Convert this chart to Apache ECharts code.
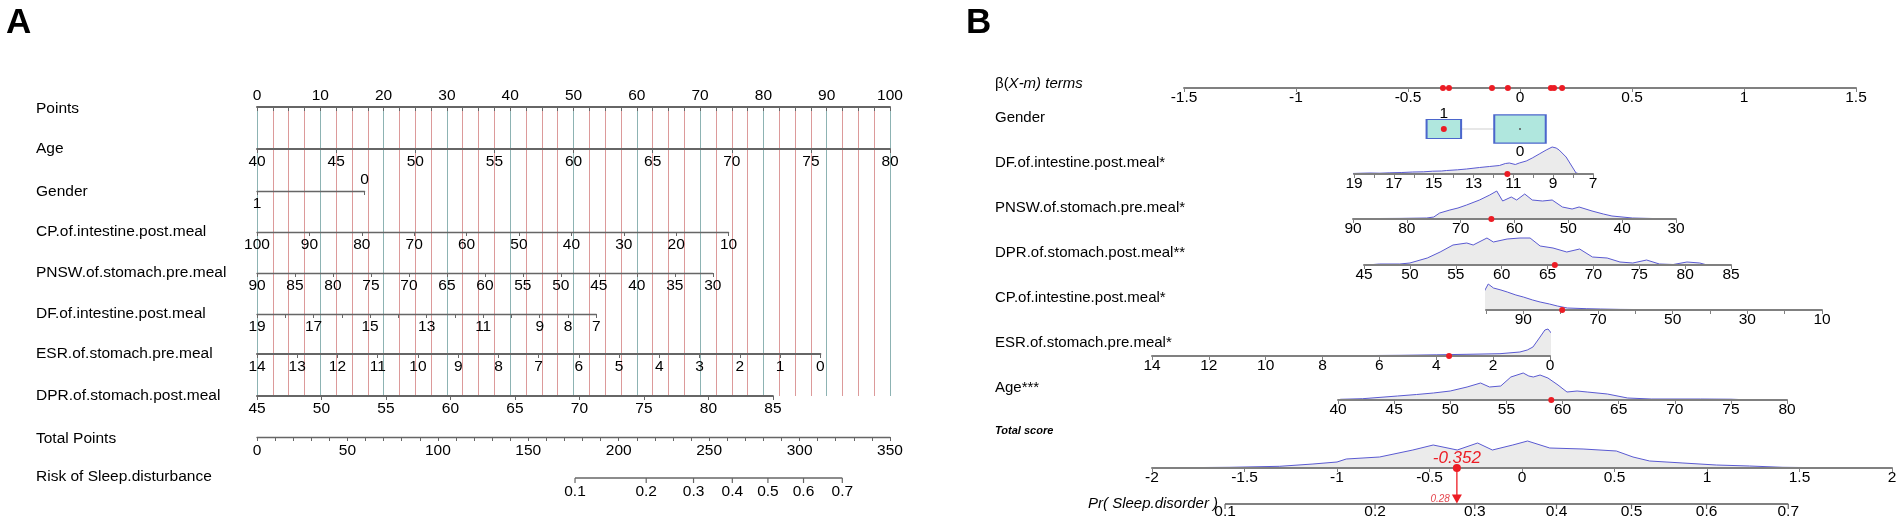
<!DOCTYPE html>
<html>
<head>
<meta charset="utf-8">
<script src="https://cdn.jsdelivr.net/npm/echarts@6/dist/echarts.min.js"></script>
<style>
  html, body { margin: 0; padding: 0; background: #fff; }
  #chart { width: 1902px; height: 524px; }
</style>
</head>
<body>
<div id="chart"></div>
<script>
// ---------- panel A : points nomogram ----------
const varNamesA = ['Age', 'Gender', 'CP.of.intestine.post.meal', 'PNSW.of.stomach.pre.meal',
  'DF.of.intestine.post.meal', 'ESR.of.stomach.pre.meal', 'DPR.of.stomach.post.meal'];
const varMinA = [40, 0, 10, 30, 7, 0, 45];
const varMaxA = [80, 1, 100, 90, 19, 14, 85];
const varStepA = [5, 1, 10, 5, 1, 1, 5];
const varFlipA = [false, true, true, true, true, true, false]; // high value = 0 points
const varPointsA = [100, 17, 74.5, 72, 53.6, 89, 81.5];        // points reached at far end
const dfLabelsA = [19, 17, 15, 13, 11, 9, 8, 7];
const genderLevelsA = [0, 1];
const totalPointsMax = 350;
const riskTicksA = [0.1, 0.2, 0.3, 0.4, 0.5, 0.6, 0.7];
const riskAt50 = 282.5;     // total points where risk = 0.5
const riskSlope = 0.0206;   // logit per total point

// ---------- panel B : regplot ----------
const betaTerms = [-0.344, -0.317, -0.125, -0.054, 0.138, 0.152, 0.188];
const genderBeta = [0, -0.34];       // level 0, level 1
const genderShare = [0.69, 0.31];
const patientGender = 1;
const varNamesB = ['DF.of.intestine.post.meal*', 'PNSW.of.stomach.pre.meal*', 'DPR.of.stomach.post.meal**',
  'CP.of.intestine.post.meal*', 'ESR.of.stomach.pre.meal*', 'Age***'];
const varMinB = [7, 30, 45, 10, 0, 40];
const varMaxB = [19, 90, 85, 100, 14, 80];
const varStepB = [1, 10, 5, 10, 2, 5];
const varFlipB = [true, true, false, true, true, false];
const dfLabelsB = [19, 17, 15, 13, 11, 9, 7];
const cpLabelsB = [90, 70, 50, 30, 10];
const patientB = [11.3, 64.3, 65.8, 79.6, 3.55, 59];
const dfDensity = [[19.1,0.5],[18.6,0.8],[18.2,1],[17.7,0.8],[17.2,1.2],[16.6,1.5],[16.05,2],[15.5,2.2],[15.05,2.8],[14.6,3],[14.35,3.5],[13.8,4.2],[13.35,5],[12.7,6.5],[12.2,7.5],[11.7,8.5],[11.4,10.5],[11.2,11],[10.9,9.5],[10.7,11],[10.35,13],[10.05,16],[9.7,20],[9.35,24],[9.05,27],[8.85,26],[8.7,24],[8.35,17],[8.1,9],[7.85,1],[7.7,0.3]];
const pnswDensity = [[90,0.5],[85,0.5],[81.3,0.6],[76.3,1],[75,2],[73.9,6],[72,9],[70.5,11],[68.9,14],[66.5,19],[64.6,24],[63.3,28],[62.2,18],[60.6,22],[59.6,19],[58.1,25],[56.7,19],[54.8,18],[53,19],[51.1,12],[49.3,10],[48,12],[45.6,8],[43.5,5],[41.9,3],[38.1,1],[34.4,0.5],[33,0.2]];
const dprDensity = [[45.3,0],[46.7,1],[48.9,1],[50,2],[51.9,7],[53.3,13],[54.7,20],[56.2,22],[56.9,20],[58.4,27],[59.1,23],[60.6,26],[62,27],[63.1,27],[64.2,19],[65.6,17],[67.1,13],[68.5,16],[69.9,8],[71.5,7],[72.9,3],[74.3,2],[75.8,5],[77.2,1],[78.7,0.5],[80.2,3],[81.6,2],[82.4,0]];
const cpDensity = [[102,0],[100.7,17],[99.4,26],[98,22],[96,20],[94.3,18],[92,15],[90,13],[87.5,10],[85.5,8],[83,6],[80.9,4],[78.2,2],[73,1.3],[69.4,1],[64,0.6],[60.6,0.5],[55,0.5],[51.5,0.4],[45.3,0]];
const esrDensity = [[8.45,0.3],[7.04,0.3],[5.28,0.7],[4,1.2],[2.92,1.7],[1.76,2.3],[1.06,4],[0.8,6],[0.6,9],[0.35,19],[0.18,26],[0.07,27],[-0.1,21],[-0.25,11],[-0.42,0]];
const ageDensity = [[40.2,0.7],[42.2,1.3],[45.3,4],[47,5.5],[48.5,7],[50,9],[51.5,13],[52.7,17],[53.5,13],[54.5,14],[55.4,23],[56.5,27],[57,24],[57.4,23],[58,25],[58.7,22],[59.6,15],[60.4,8],[61.3,9],[62.2,8],[64,6],[65.8,2],[67.9,1],[72.3,1],[75,0.8],[76.8,0]];
const totalDensity = [[-1.97,0],[-1.85,0.3],[-1.58,0.7],[-1.31,1.7],[-1.13,4],[-1,6],[-0.95,9],[-0.77,11],[-0.59,18],[-0.48,23],[-0.35,18],[-0.24,25],[-0.16,18],[-0.05,23],[0.03,27],[0.15,20],[0.33,19],[0.51,17],[0.6,11],[0.69,7],[0.87,5],[1.05,3],[1.23,2],[1.41,0.7],[1.61,0.3],[1.64,0]];
const densitiesB = [dfDensity, pnswDensity, dprDensity, cpDensity, esrDensity, ageDensity];
const totalScore = -0.352;
const patientProb = 0.28;
const prTicks = [0.1, 0.2, 0.3, 0.4, 0.5, 0.6, 0.7];
const prOffset = -0.592;   // logit(p) = score + offset

// ---------- layout ----------
const FONT = 'Liberation Sans, Arial, Helvetica, sans-serif';
const RED = '#ec1c24';
const TICK_FS = 15.5;
const A_LEFT = 257, A_W = 633;
const rowYA = [107, 149, 191, 232, 273, 314, 354, 396, 437, 478];
const rowLabelYA = [109, 149, 192, 232, 273, 314, 354, 396, 439, 477];
const B_LEFT = 995;
const rowYB = [174, 219, 265, 310, 356, 400];
const leftB = [1354, 1353, 1364, 1486, 1152, 1338];
const rightB = [1593, 1676, 1731, 1822, 1550, 1787];
const DENS_H = 32;

const logit = p => Math.log(p / (1 - p));
const riskToPoints = p => riskAt50 + logit(p) / riskSlope;
const probToScore = p => logit(p) - prOffset;

const grid = [], xAxis = [], yAxis = [], series = [];
function addGrid(box, xa, ya) {
  const i = grid.length;
  grid.push(Object.assign({ outerBoundsMode: 'none', containLabel: false }, box));
  xAxis.push(Object.assign({ gridIndex: i, type: 'value' }, xa));
  yAxis.push(Object.assign({ gridIndex: i, type: 'value', show: false, min: 0, max: 1 }, ya || {}));
  return i;
}
function scaleAxis(o) {
  return {
    type: 'value', min: o.min, max: o.max, interval: o.step, inverse: !!o.flip,
    position: o.top ? 'top' : 'bottom', z: 3,
    axisLine: { show: true, onZero: false, lineStyle: { color: o.color || '#666', width: o.width || 1.3 } },
    axisTick: { show: true, inside: !!o.top, length: 4, lineStyle: { color: o.color || '#666', width: 1 } },
    axisLabel: { show: o.labels !== false, margin: o.margin == null ? 5 : o.margin, fontSize: o.fs || TICK_FS,
      color: '#000', fontFamily: FONT, formatter: o.fmt || (v => String(v)) },
    splitLine: { show: false }
  };
}
const hiddenAxis = (min, max) => ({ type: 'value', min, max, show: false });
const labelStyle = (extra) => Object.assign({ show: true, fontSize: TICK_FS, color: '#000', fontFamily: FONT,
  textBorderWidth: 0, opacity: 1 }, extra);
// scatter series: opaque symbols (scatter defaults to 0.8 opacity)
const dots = (o) => Object.assign({ type: 'scatter', clip: false, z: 6 }, o,
  { itemStyle: Object.assign({ opacity: 1 }, o.itemStyle || {}) });
// tick marks + tick labels for the non-linear (logit) scales
function tickSeries(gi, xs, texts, dist) {
  return [
    dots({ xAxisIndex: gi, yAxisIndex: gi, silent: true, z: 4,
      symbol: 'rect', symbolSize: [1.2, 5], symbolOffset: [0, 2.5], itemStyle: { color: '#666' },
      data: xs.map(x => [x, 0]) }),
    dots({ xAxisIndex: gi, yAxisIndex: gi, silent: true, z: 4, symbolSize: 0, itemStyle: { color: '#000' },
      data: xs.map((x, k) => ({ value: [x, 0],
        label: labelStyle({ position: 'bottom', distance: dist, formatter: texts[k] }) })) })
  ];
}

// reference lines behind panel A
addGrid({ left: A_LEFT, width: A_W, top: rowYA[0], height: rowYA[7] - rowYA[0] }, {
  min: 0, max: 100, interval: 2.5,
  axisLine: { show: false }, axisTick: { show: false }, axisLabel: { show: false },
  splitLine: { show: true, showMinLine: true, showMaxLine: true,
    lineStyle: { color: ['#8db3b3', '#dc9a9a', '#dc9a9a', '#dc9a9a'], width: 1 } }
});

// Points
addGrid({ left: A_LEFT, width: A_W, top: rowYA[0], height: 1 },
  scaleAxis({ min: 0, max: 100, step: 2.5, top: true, margin: 3, width: 2,
    fmt: v => (v % 10 === 0 ? String(v) : '') }));

// variable scales
varNamesA.forEach((name, k) => {
  const y = rowYA[k + 1];
  const opts = { min: varMinA[k], max: varMaxA[k], step: varStepA[k], flip: varFlipA[k],
    width: [0, 5, 6].includes(k) ? 2 : 1.3 };
  if (name === 'Gender') opts.labels = false;
  if (name.startsWith('DF')) opts.fmt = v => (dfLabelsA.includes(v) ? String(v) : '');
  const gi = addGrid({ left: A_LEFT, width: A_W * varPointsA[k] / 100, top: y - 1, height: 1 }, scaleAxis(opts));
  if (name === 'Gender') {
    series.push(dots({
      xAxisIndex: gi, yAxisIndex: gi, silent: true,
      symbolSize: 0, itemStyle: { color: '#000' },
      data: genderLevelsA.map(l => ({ value: [l, 0], label: labelStyle({ formatter: String(l),
        position: l === 0 ? 'top' : 'bottom', distance: l === 0 ? 3 : 5 }) }))
    }));
  }
});

// Total Points
addGrid({ left: A_LEFT, width: A_W, top: rowYA[8] - 1, height: 1 },
  scaleAxis({ min: 0, max: totalPointsMax, step: 10, margin: 6,
    fmt: v => (v % 50 === 0 ? String(v) : '') }));

// Risk
{
  const gi = addGrid({ left: A_LEFT, width: A_W, top: rowYA[9] - 1, height: 1 }, hiddenAxis(0, totalPointsMax));
  const xs = riskTicksA.map(riskToPoints);
  series.push({ type: 'line', xAxisIndex: gi, yAxisIndex: gi, clip: false, silent: true, symbol: 'none',
    lineStyle: { color: '#666', width: 1.3 }, data: [[xs[0], 0], [xs[xs.length - 1], 0]] });
  series.push(...tickSeries(gi, xs, riskTicksA.map(String), 6));
}

// ---------- panel B ----------
const axisB = o => scaleAxis(Object.assign({ color: '#808080', width: 2, margin: 2 }, o));

// beta terms
{
  const gi = addGrid({ left: 1184, width: 672, top: 87, height: 1 }, axisB({ min: -1.5, max: 1.5, step: 0.5 }));
  series.push(dots({ xAxisIndex: gi, yAxisIndex: gi, symbolSize: 6,
    itemStyle: { color: RED }, data: betaTerms.map(b => [b, 0]) }));
}

// Gender boxes
{
  const gi = addGrid({ left: 1184, width: 672, top: 100, height: 58 }, hiddenAxis(-1.5, 1.5));
  series.push({ type: 'line', xAxisIndex: gi, yAxisIndex: gi, silent: true, symbol: 'none', z: 1,
    lineStyle: { color: '#cfcfcf', width: 1 }, data: [[genderBeta[1], 0.5], [genderBeta[0], 0.5]] });
  series.push(dots({
    xAxisIndex: gi, yAxisIndex: gi, z: 3, symbol: 'rect',
    itemStyle: { color: '#b0e7de', borderColor: '#4b66cc', borderWidth: 1.5 },
    data: genderBeta.map((b, l) => ({
      value: [b, 0.5],
      symbolSize: [62 * Math.sqrt(genderShare[l]), 34 * Math.sqrt(genderShare[l])],
      label: labelStyle({ formatter: String(l), position: l === 1 ? 'top' : 'bottom',
        distance: l === 1 ? -3 : 0 })
    }))
  }));
  series.push(dots({ xAxisIndex: gi, yAxisIndex: gi, z: 5,
    data: genderBeta.map((b, l) => ({ value: [b, 0.5],
      symbolSize: l === patientGender ? 6 : 2,
      itemStyle: { color: l === patientGender ? RED : '#555', opacity: 1 } })) }));
}

// continuous variables with densities
varNamesB.forEach((name, k) => {
  const opts = { min: varMinB[k], max: varMaxB[k], step: varStepB[k], flip: varFlipB[k] };
  if (name.startsWith('DF')) opts.fmt = v => (dfLabelsB.includes(v) ? String(v) : '');
  if (name.startsWith('CP')) opts.fmt = v => (cpLabelsB.includes(v) ? String(v) : '');
  const gi = addGrid({ left: leftB[k], width: rightB[k] - leftB[k], top: rowYB[k] - DENS_H, height: DENS_H },
    axisB(opts), { min: 0, max: DENS_H });
  series.push({ type: 'line', xAxisIndex: gi, yAxisIndex: gi, clip: false, silent: true, symbol: 'none', z: 2,
    lineStyle: { color: '#5a5ad2', width: 1 }, areaStyle: { color: '#ebebeb', opacity: 1 }, data: densitiesB[k] });
  series.push(dots({ xAxisIndex: gi, yAxisIndex: gi, symbolSize: 6,
    itemStyle: { color: RED }, data: [[patientB[k], 0]] }));
});

// Total score
{
  const gi = addGrid({ left: 1152, width: 740, top: 468 - DENS_H, height: DENS_H },
    axisB({ min: -2, max: 2, step: 0.5 }), { min: 0, max: DENS_H });
  series.push({ type: 'line', xAxisIndex: gi, yAxisIndex: gi, clip: false, silent: true, symbol: 'none', z: 2,
    lineStyle: { color: '#5a5ad2', width: 1 }, areaStyle: { color: '#ebebeb', opacity: 1 }, data: totalDensity });
  series.push(dots({ xAxisIndex: gi, yAxisIndex: gi, symbolSize: 8,
    itemStyle: { color: RED },
    data: [{ value: [totalScore, 0], label: labelStyle({ position: 'top', distance: -3,
      formatter: String(totalScore), fontSize: 17, fontStyle: 'italic', color: RED }) }] }));
}

// arrow to probability
{
  const gi = addGrid({ left: 1152, width: 740, top: 468, height: 36 }, hiddenAxis(-2, 2), { min: 0, max: 36 });
  series.push({ type: 'line', xAxisIndex: gi, yAxisIndex: gi, clip: false, silent: true, symbol: 'none', z: 5,
    lineStyle: { color: RED, width: 1.3 }, data: [[totalScore, 36], [totalScore, 6]] });
  series.push(dots({ xAxisIndex: gi, yAxisIndex: gi,
    symbol: 'triangle', symbolRotate: 180, symbolSize: [10, 9], itemStyle: { color: RED },
    data: [{ value: [totalScore, 5], label: labelStyle({ position: 'left', distance: 2,
      formatter: String(patientProb), fontSize: 10, fontStyle: 'italic', color: '#e5474f' }) }] }));
}

// Pr axis
{
  const gi = addGrid({ left: 1152, width: 740, top: 503, height: 1 }, hiddenAxis(-2, 2));
  const xs = prTicks.map(probToScore);
  series.push({ type: 'line', xAxisIndex: gi, yAxisIndex: gi, clip: false, silent: true, symbol: 'none', z: 3,
    lineStyle: { color: '#808080', width: 2 }, data: [[xs[0], 0], [xs[xs.length - 1], 0]] });
  series.push(...tickSeries(gi, xs, prTicks.map(String), 0));
}

// ---------- row titles ----------
const txt = (x, y, text, extra) => ({ type: 'text', x, y, silent: true,
  style: Object.assign({ text, fill: '#000', fontSize: 15.5, fontFamily: FONT, verticalAlign: 'middle' }, extra || {}) });
const rowNamesA = ['Points'].concat(varNamesA, ['Total Points', 'Risk of Sleep.disturbance']);
const texts = rowNamesA.map((n, i) => txt(36, rowLabelYA[i], n));
texts.push(txt(6, 23, 'A', { fontSize: 35, fontWeight: 'bold' }));
texts.push(txt(966, 23, 'B', { fontSize: 35, fontWeight: 'bold' }));
texts.push(txt(B_LEFT, 84, '{a|β(}{b|X-m) terms}', { fontSize: 15,
  rich: { a: { fontSize: 15, fontFamily: FONT }, b: { fontSize: 15, fontFamily: FONT, fontStyle: 'italic' } } }));
texts.push(txt(B_LEFT, 118, 'Gender', { fontSize: 15 }));
[163, 208, 253, 298, 343, 388].forEach((y, k) => texts.push(txt(B_LEFT, y, varNamesB[k], { fontSize: 15 })));
texts.push(txt(B_LEFT, 431, 'Total score', { fontSize: 11, fontWeight: 'bold', fontStyle: 'italic' }));
texts.push(txt(1088, 504, 'Pr( Sleep.disorder )', { fontSize: 15, fontStyle: 'italic' }));

const chart = echarts.init(document.getElementById('chart'), null, { renderer: 'canvas' });
chart.setOption({
  animation: false,
  backgroundColor: '#ffffff',
  grid, xAxis, yAxis, series,
  graphic: { elements: texts }
});
</script>
</body>
</html>
